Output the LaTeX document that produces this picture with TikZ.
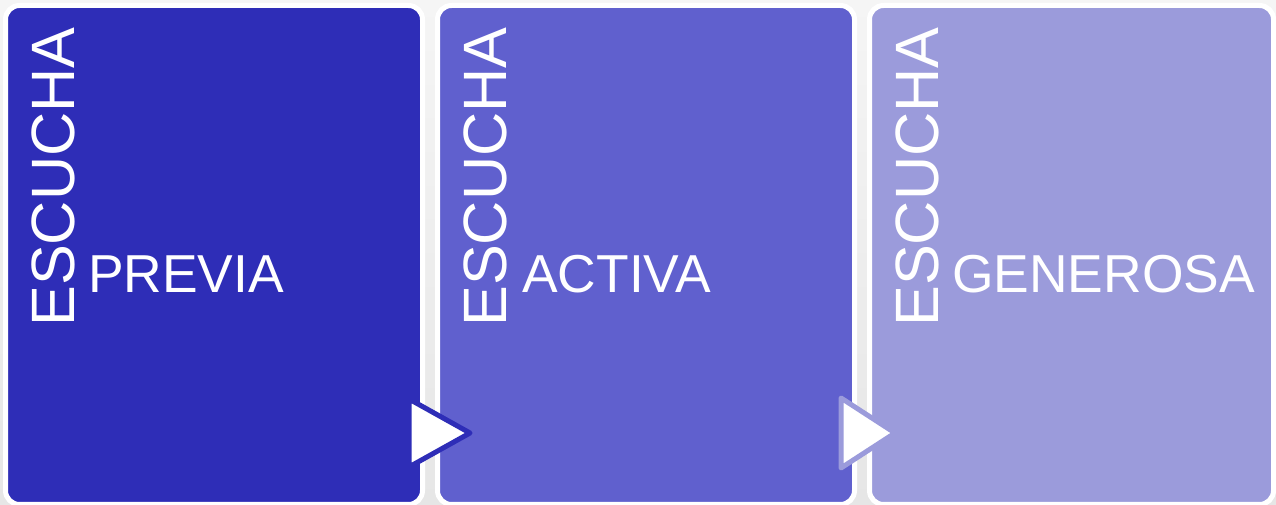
\documentclass[tikz,border=0pt]{standalone}
\usepackage{fontspec}
\setmainfont{Liberation Sans}
\definecolor{cA}{RGB}{46,45,183}
\definecolor{cB}{RGB}{96,96,206}
\definecolor{cC}{RGB}{155,155,219}
\definecolor{bgtop}{RGB}{245,245,245}
\definecolor{bgbot}{RGB}{230,230,230}
\tikzset{
  panel/.style={rectangle, rounded corners=14pt, draw=white, line width=5pt, minimum width=417pt, minimum height=499pt, inner sep=0pt, outer sep=0pt},
  vlabel/.style={text=white, font=\fontsize{61.2}{61.2}\selectfont, rotate=90, anchor=base west, inner sep=0pt},
  hlabel/.style={text=white, font=\fontsize{53.4}{53.4}\selectfont, anchor=base west, inner sep=0pt},
  tri/.style={fill=white, line width=5pt, line join=round}
}
\begin{document}
\begin{tikzpicture}[x=1pt,y=1pt]
\useasboundingbox (0,0) rectangle (1276,505);
\shade[top color=bgtop, bottom color=bgbot] (0,0) rectangle (1276,505);
\node[panel, fill=cA] (p1) at (214,250) {};
\node[panel, fill=cB] (p2) at (646,250) {};
\node[panel, fill=cC, minimum width=404pt] (p3) at (1071.5,250) {};
\node[vlabel] (e1) at (74,178) {ESCUCHA};
\node[vlabel] (e2) at (506,178) {ESCUCHA};
\node[vlabel] (e3) at (938,178) {ESCUCHA};
\node[hlabel] (t1) at (88,212) {PREVIA};
\node[hlabel] (t2) at (522,212) {ACTIVA};
\node[hlabel] (t3) at (952,212) {GENEROSA};
\draw[tri, draw=cA] (409,106) -- (409,38) -- (470,72) -- cycle;
\draw[tri, draw=cC] (841,107) -- (841,37) -- (895,72) -- cycle;
\end{tikzpicture}
\end{document}
